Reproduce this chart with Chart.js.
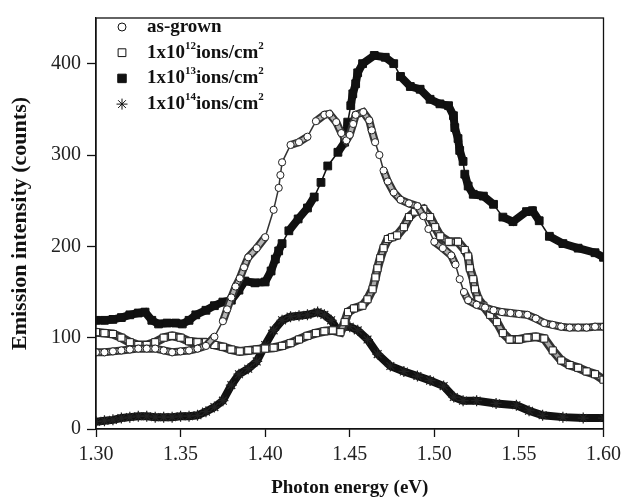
<!DOCTYPE html>
<html>
<head>
<meta charset="utf-8">
<script src="https://cdn.jsdelivr.net/npm/chart.js@4.4.0/dist/chart.umd.min.js"></script>
<style>
  body { margin: 0; background: #fff; }
</style>
</head>
<body>
<canvas id="myChart" width="627" height="500"></canvas>
<script>
// data (photon energy in eV, counts)
let asGrownX = [1.300,1.305,1.310,1.315,1.320,1.325,1.330,1.335,1.340,1.345,1.350,1.355,1.360,1.365,1.370,1.375,1.3775,1.380,1.3825,1.385,1.3875,1.390,1.395,1.400,
    1.405,1.408,1.409,1.410,1.415,1.420,1.425,1.430,1.435,1.438,1.442,1.445,1.448,1.450,1.452,
    1.4535,1.458,1.4615,1.463,1.465,1.4675,1.470,1.4725,1.476,1.480,1.485,1.490,
    1.4935,1.4965,1.500,1.505,1.510,1.5125,1.515,1.5175,1.520,
    1.525,1.530,1.535,1.540,1.545,1.550,1.555,1.560,1.565,1.570,1.575,1.580,1.585,1.590,1.595,1.600];
let asGrownY = [84,84,85,86,87,88,88,88,86,84,85,86,88,91,101,118,131,144,156,165,177,188,198,210,
    240,264,278,292,311,314,320,337,344,345,336,324,316,322,334,
    344,347,338,327,314,300,283,271,259,251,247,244,
    233,219,205,198,190,180,164,150,141,
    136,133,130,128,127,126,125,121,116,114,112,111,111,111,112,112];

let e12X = [1.300,1.305,1.310,1.315,1.320,1.325,1.330,1.335,1.340,1.345,1.350,1.355,1.360,1.365,1.370,1.375,1.380,1.385,1.390,1.395,1.400,1.405,1.410,1.415,1.420,1.425,1.430,1.435,1.440,
    1.4445,1.447,1.449,1.4525,1.4575,1.4605,1.4635,1.4652,1.4664,1.468,1.470,1.4725,1.475,1.478,1.482,1.485,1.4885,1.4935,1.4975,1.5005,1.5035,1.5085,1.514,1.518,1.520,1.521,1.523,1.524,1.526,1.529,1.533,1.537,1.5405,1.5445,
    1.550,1.555,1.560,1.565,1.570,1.575,1.580,1.585,1.590,1.595,1.600];
let e12Y = [106,105,104,100,95,92,92,95,100,102,100,96,95,95,92,90,87,85,86,87,88,89,91,94,98,102,105,107,108,
    106,117,128,132,135,142,153,166,176,187,198,208,210,212,221,232,238,241,232,221,211,205,205,196,189,176,164,153,142,135,125,117,105,98,
    98,100,101,99,86,75,70,67,63,60,54];

let e13X = [1.300,1.305,1.310,1.315,1.320,1.325,1.329,1.333,1.337,1.342,1.347,1.351,1.355,1.359,
    1.365,1.370,1.375,1.380,1.3845,1.388,1.394,1.400,1.4035,1.406,1.408,1.410,1.414,1.4195,1.425,1.429,1.433,1.437,
    1.443,1.447,1.448,1.4488,1.4506,1.4518,1.4535,1.4547,1.4576,1.4645,1.471,
    1.476,1.480,1.4858,1.4916,1.4975,1.5033,1.5084,1.5113,1.5121,1.514,
    1.515,1.517,1.518,1.520,1.523,1.529,1.535,1.5405,1.5465,1.5545,
    1.558,1.562,1.568,1.576,1.585,1.595,1.600];
let e13Y = [119,119,120,122,125,127,128,119,115,116,116,115,119,125,
    130,135,139,141,152,162,160,161,173,186,195,203,217,230,242,254,270,288,
    303,314,325,336,354,367,378,390,400,409,407,
    400,386,375,372,361,356,354,343,330,318,
    305,293,279,266,257,255,246,232,227,238,
    239,228,211,203,198,193,188];

let e14X = [1.300,1.305,1.310,1.315,1.320,1.325,1.330,1.335,1.340,1.345,1.350,1.355,1.360,1.365,1.370,1.375,1.380,
    1.3845,1.390,1.395,1.400,1.405,1.410,1.415,1.420,1.425,
    1.431,1.435,1.439,1.443,1.447,1.450,1.4547,1.4605,1.4665,1.474,
    1.482,1.490,1.4975,1.5055,1.5115,1.517,1.525,1.5365,1.5485,1.556,
    1.564,1.576,1.588,1.600];
let e14Y = [8,9,10,12,13,14,14,13,13,13,14,14,15,19,24,31,48,
    60,66,74,92,108,119,123,124,125,
    128,125,119,108,112,112,108,98,82,69,
    63,58,53,47,35,31,31,28,26,20,
    15,13,12,12];

let seriesNames = ["as-grown", "1x10^12ions/cm^2", "1x10^13ions/cm^2", "1x10^14ions/cm^2"];
let xTicks = [1.30, 1.35, 1.40, 1.45, 1.50, 1.55, 1.60];
let yTicks = [0, 100, 200, 300, 400];

function toPoints(xs, ys) {
    return xs.map(function (x, i) { return {x: x, y: ys[i]}; });
}

// where the curve is steep the original shows loose markers, so the band gets thin there
function isSteep(ctx) {
    let dx = Math.abs(ctx.p1.x - ctx.p0.x);
    let dy = Math.abs(ctx.p1.y - ctx.p0.y);
    return dy > 12 && dy > dx * 1.2;
}
function innerColor(ctx) {
    return isSteep(ctx) ? "rgba(0,0,0,0)" : undefined;
}
function thinWidth(ctx) {
    return isSteep(ctx) ? 1.5 : undefined;
}

let serif = "'Liberation Serif', 'Times New Roman', serif";

// box round the plot area
let framePlugin = {
    id: "frame",
    afterDraw(chart) {
        let a = chart.chartArea;
        let ctx = chart.ctx;
        ctx.save();
        ctx.strokeStyle = "#111";
        ctx.lineWidth = 1.3;
        ctx.strokeRect(a.left, a.top, a.right - a.left, a.bottom - a.top);
        ctx.restore();
    }
};

// legend in the top left corner, with superscripts
let legendMarkers = [
    {pointStyle: "circle", radius: 4, fill: "#fff"},
    {pointStyle: "rect", radius: 5.5, fill: "#fff"},
    {pointStyle: "rect", radius: 6, fill: "#111"},
    {pointStyle: "star", radius: 5.5, fill: "#111"}
];
let legendPlugin = {
    id: "legendBox",
    afterDraw(chart) {
        let ctx = chart.ctx;
        ctx.save();
        for (let i = 0; i < seriesNames.length; i++) {
            let y = 27 + i * 25.7;
            let m = legendMarkers[i];
            ctx.fillStyle = m.fill;
            ctx.strokeStyle = "#111";
            ctx.lineWidth = 1;
            Chart.helpers.drawPoint(ctx, {pointStyle: m.pointStyle, radius: m.radius, rotation: 0, borderWidth: 1}, 122, y);

            let parts = seriesNames[i].split(/\^(\d+)/);
            let x = 147;
            ctx.fillStyle = "#111";
            ctx.textBaseline = "middle";
            ctx.textAlign = "left";
            for (let j = 0; j < parts.length; j++) {
                if (j % 2 == 0) {
                    ctx.font = "bold 19px " + serif;
                    ctx.fillText(parts[j], x, y);
                } else {
                    ctx.font = "bold 11px " + serif;
                    ctx.fillText(parts[j], x, y - 7);
                }
                x += ctx.measureText(parts[j]).width;
            }
        }
        ctx.restore();
    }
};

let myChart = document.getElementById("myChart").getContext("2d");
let spectraChart = new Chart(myChart, {
    type: "scatter",
    data: {
        datasets: [
            {
                // as-grown, inner light part of the band + open circles
                data: toPoints(asGrownX, asGrownY),
                showLine: true,
                borderColor: "#b5b5b5",
                borderWidth: 4,
                segment: {borderColor: innerColor},
                pointStyle: "circle",
                pointRadius: 3.6,
                pointBackgroundColor: "#fff",
                pointBorderColor: "#222",
                pointBorderWidth: 1
            },
            {
                data: toPoints(asGrownX, asGrownY),
                showLine: true,
                borderColor: "#333",
                borderWidth: 8,
                segment: {borderWidth: thinWidth},
                pointRadius: 0
            },
            {
                // 1e12, open squares
                data: toPoints(e12X, e12Y),
                showLine: true,
                borderColor: "#a8a8a8",
                borderWidth: 4,
                segment: {borderColor: innerColor},
                pointStyle: "rect",
                pointRadius: 5,
                pointBackgroundColor: "#fff",
                pointBorderColor: "#222",
                pointBorderWidth: 1
            },
            {
                data: toPoints(e12X, e12Y),
                showLine: true,
                borderColor: "#333",
                borderWidth: 9,
                segment: {borderWidth: thinWidth},
                pointRadius: 0
            },
            {
                // 1e13, filled squares
                data: toPoints(e13X, e13Y),
                showLine: true,
                borderColor: "#111",
                borderWidth: 8,
                segment: {borderWidth: thinWidth},
                pointStyle: "rect",
                pointRadius: 5.5,
                pointBackgroundColor: "#111",
                pointBorderColor: "#111",
                pointBorderWidth: 1
            },
            {
                // 1e14, asterisks
                data: toPoints(e14X, e14Y),
                showLine: true,
                borderColor: "#111",
                borderWidth: 8,
                pointStyle: "star",
                pointRadius: 5.5,
                pointBackgroundColor: "#111",
                pointBorderColor: "#222",
                pointBorderWidth: 1.2
            }
        ]
    },
    options: {
        responsive: false,
        animation: false,
        events: [],
        layout: {
            padding: {top: 11, right: 19, left: 0, bottom: 0}
        },
        plugins: {
            legend: {display: false},
            tooltip: {enabled: false}
        },
        scales: {
            x: {
                type: "linear",
                min: 1.30,
                max: 1.60,
                afterBuildTicks: function (scale) {
                    scale.ticks = xTicks.map(function (v) { return {value: v}; });
                },
                afterFit: function (scale) {
                    scale.height = 71;
                },
                ticks: {
                    color: "#222",
                    font: {family: serif, size: 20},
                    padding: 6,
                    maxRotation: 0,
                    callback: function (v) { return v.toFixed(2); }
                },
                grid: {
                    drawOnChartArea: false,
                    tickLength: 8,
                    tickColor: "#111",
                    tickWidth: 1.3
                },
                border: {color: "#111", width: 1.3},
                title: {
                    display: true,
                    text: "Photon energy (eV)",
                    color: "#111",
                    font: {family: serif, size: 19, weight: "bold"},
                    padding: {top: 0, bottom: 1}
                }
            },
            y: {
                type: "linear",
                min: 0,
                max: 450,
                afterBuildTicks: function (scale) {
                    scale.ticks = yTicks.map(function (v) { return {value: v}; });
                },
                afterFit: function (scale) {
                    scale.width = 96;
                },
                ticks: {
                    color: "#222",
                    font: {family: serif, size: 20},
                    padding: 6
                },
                grid: {
                    drawOnChartArea: false,
                    tickLength: 9,
                    tickColor: "#111",
                    tickWidth: 1.3
                },
                border: {color: "#111", width: 1.3},
                title: {
                    display: true,
                    text: "Emission intensity (counts)",
                    color: "#111",
                    font: {family: serif, size: 22, weight: "bold"},
                    padding: {top: 7, bottom: 0}
                }
            }
        }
    },
    plugins: [framePlugin, legendPlugin]
});
</script>
</body>
</html>
